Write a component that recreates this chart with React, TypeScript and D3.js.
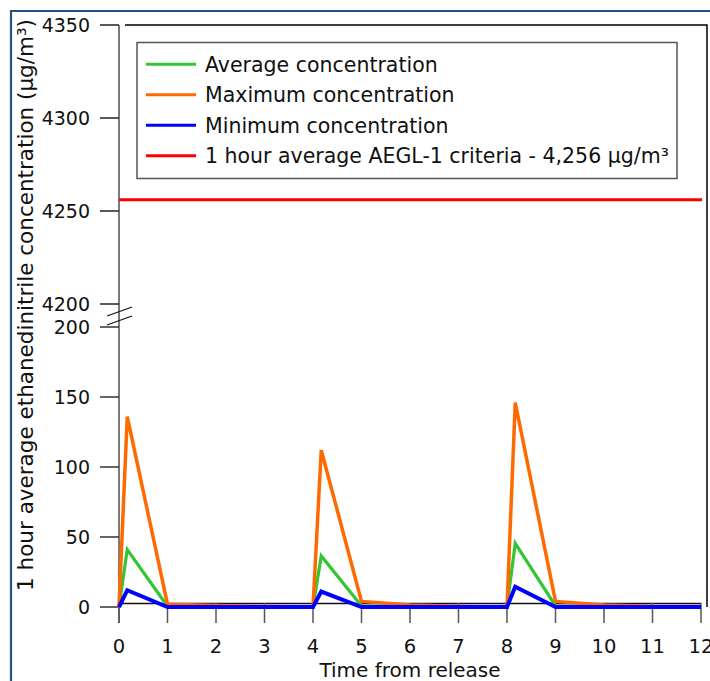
import React from "react";
import * as d3 from "d3";

const times = [0, 0.17, 1, 2, 3, 4, 4.17, 5, 6, 7, 8, 8.17, 9, 10, 11, 12];
const avgConc = [0, 41, 0.5, 0.2, 0.1, 0, 36.5, 0.8, 0.2, 0.1, 0, 45.5, 0.8, 0.2, 0.1, 0.1];
const maxConc = [0, 136, 2, 1, 0.5, 0, 112, 4, 1.5, 0.5, 0, 146, 4, 1.5, 0.5, 0.3];
const minConc = [0, 12, 0, 0, 0, 0, 11, 0, 0, 0, 0, 14.5, 0, 0, 0, 0];
const aeglValue = 4256;
const xTicks = [0, 1, 2, 3, 4, 5, 6, 7, 8, 9, 10, 11, 12];
const yLowTicks = [0, 50, 100, 150, 200];
const yHighTicks = [4200, 4250, 4300, 4350];
const legendLabels = [
  "Average concentration",
  "Maximum concentration",
  "Minimum concentration",
  "1 hour average AEGL-1 criteria - 4,256 μg/m³",
];
const legendColors = ["#33c633", "#ff6a00", "#0000ff", "#ff0000"];

const FONT = "'DejaVu Sans', sans-serif";

export default function App() {
  const x = d3.scaleLinear().domain([0, 12]).range([119, 701]);
  const yLow = d3.scaleLinear().domain([0, 200]).range([607, 327]);
  const yHigh = d3.scaleLinear().domain([4200, 4350]).range([304, 25]);

  const line = d3
    .line<number>()
    .x((_, i) => x(times[i]))
    .y((d) => yLow(d));

  const series = [
    { values: avgConc, color: legendColors[0], w: 3.2 },
    { values: maxConc, color: legendColors[1], w: 3.5 },
    { values: minConc, color: legendColors[2], w: 4 },
  ];

  return (
    <svg
      width={710}
      height={681}
      style={{ position: "absolute", left: 0, top: 0, background: "#fff" }}
      fontFamily={FONT}
    >
      <rect x={0} y={0} width={710} height={681} fill="#fff" />
      {/* outer border */}
      <path d="M11,681 V11 H710" fill="none" stroke="#1f5585" strokeWidth={2.2} />

      {/* frame */}
      <path d="M125,25 H707 V607" fill="none" stroke="#000" strokeWidth={1.5} />

      {/* x axis line */}
      <line x1={119} x2={701} y1={603.5} y2={603.5} stroke="#111" strokeWidth={1.5} />

      {/* y axis line */}
      <line x1={119} x2={119} y1={25} y2={623} stroke="#7a7a7a" strokeWidth={2} />

      {/* y ticks high */}
      {yHighTicks.map((t) => (
        <g key={"h" + t}>
          <line x1={100} x2={119} y1={yHigh(t)} y2={yHigh(t)} stroke="#222" strokeWidth={1.5} />
          <text x={90} y={yHigh(t) + 7} textAnchor="end" fontSize={19} fill="#111">
            {t}
          </text>
        </g>
      ))}
      {/* y ticks low */}
      {yLowTicks.map((t) => (
        <g key={"l" + t}>
          <line x1={100} x2={119} y1={yLow(t)} y2={yLow(t)} stroke="#333" strokeWidth={1.5} />
          <text x={90} y={yLow(t) + 7} textAnchor="end" fontSize={19} fill="#111">
            {t}
          </text>
        </g>
      ))}

      {/* break marks */}
      <line x1={107} y1={316} x2={132} y2={307} stroke="#111" strokeWidth={1.2} />
      <line x1={107} y1={325} x2={132} y2={316} stroke="#111" strokeWidth={1.2} />

      {/* x ticks */}
      {xTicks.map((t) => (
        <g key={"x" + t}>
          <line x1={x(t)} x2={x(t)} y1={603} y2={623} stroke="#555" strokeWidth={1.5} />
          <text x={x(t)} y={653} textAnchor="middle" fontSize={19.5} fill="#111">
            {t}
          </text>
        </g>
      ))}

      {/* AEGL line */}
      <line
        x1={x(0)}
        x2={x(12) + 1}
        y1={yHigh(aeglValue)}
        y2={yHigh(aeglValue)}
        stroke={legendColors[3]}
        strokeWidth={3}
      />

      {/* data lines */}
      {series.map((s, i) => (
        <path
          key={i}
          d={line(s.values) || ""}
          fill="none"
          stroke={s.color}
          strokeWidth={s.w}
          strokeLinejoin="miter"
        />
      ))}

      {/* legend */}
      <rect x={137} y={42.5} width={540} height={136} fill="#fff" stroke="#555" strokeWidth={1.5} />
      {legendLabels.map((lab, i) => {
        const ly = 64.3 + i * 30.5;
        return (
          <g key={lab}>
            <line x1={146} x2={196} y1={ly} y2={ly} stroke={legendColors[i]} strokeWidth={3} />
            <text x={205} y={ly + 7.5} fontSize={20.5} fill="#111">
              {lab}
            </text>
          </g>
        );
      })}

      {/* axis titles */}
      <text x={410} y={677} textAnchor="middle" fontSize={20} fill="#111">
        Time from release
      </text>
      <text
        transform="translate(33,305) rotate(-90)"
        textAnchor="middle"
        fontSize={21.5}
        fill="#111"
      >
        1 hour average ethanedinitrile concentration (μg/m³)
      </text>
    </svg>
  );
}
